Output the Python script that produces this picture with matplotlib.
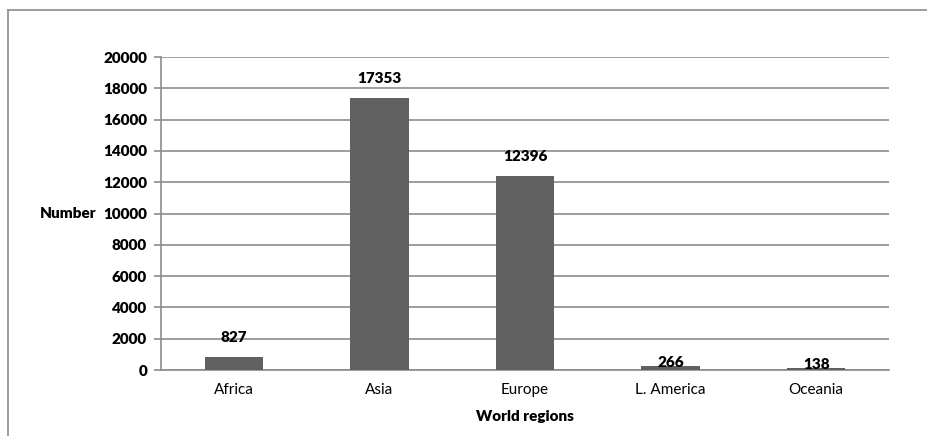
"""Bar chart of counts by world region."""
import matplotlib

matplotlib.use("Agg")
import matplotlib.pyplot as plt
from matplotlib.lines import Line2D

regions = ["Africa", "Asia", "Europe", "L. America", "Oceania"]
counts = [827, 17353, 12396, 266, 138]
y_ticks = [0, 2000, 4000, 6000, 8000, 10000, 12000, 14000, 16000, 18000, 20000]

# label offsets in points above the bar top (the two small bars had their labels pulled down)
label_offsets = [11, 11, 11, -0.7, -0.7]

plt.rcParams["font.family"] = ["Lato", "DejaVu Sans"]
grey = "#8c8c8c"
heavy = "heavy"

fig = plt.figure(figsize=(9.28, 4.36), dpi=100, facecolor="w")
ax = fig.add_axes([161 / 928, 66 / 436, 728 / 928, 313 / 436])

x = range(len(regions))
ax.bar(x, counts, width=0.4, color="#616161", zorder=3)
for xi, value, off in zip(x, counts, label_offsets):
    ax.annotate(
        str(value), (xi, value), xytext=(0, off), textcoords="offset points",
        ha="center", va="baseline", fontsize=11, fontweight=heavy, zorder=4,
    )

ax.set_xlim(-0.5, len(regions) - 0.5)
ax.set_ylim(0, 20000)
ax.set_yticks(y_ticks)
ax.set_yticklabels([str(t) for t in y_ticks], fontsize=11, fontweight=heavy)
ax.set_xticks(list(x))
ax.set_xticklabels(regions, fontsize=11)
ax.tick_params(axis="x", length=0, pad=9)
ax.tick_params(axis="y", length=5, width=1.2, color=grey, pad=5)
ax.grid(axis="y", color=grey, linewidth=1.2, zorder=0)

for side in ["top", "right"]:
    ax.spines[side].set_visible(False)
for side in ["left", "bottom"]:
    ax.spines[side].set_color(grey)
    ax.spines[side].set_linewidth(1.2)

ax.set_xlabel("World regions", fontsize=11, fontweight=heavy, labelpad=10)
ax.set_ylabel("Number", fontsize=11, fontweight=heavy, rotation=0, ha="right", va="center")
ax.yaxis.set_label_coords(-0.088, 0.5)

# outer chart frame (top and left edges visible in the crop)
fig.add_artist(Line2D([8.5 / 928, 8.5 / 928], [0, 1 - 10.5 / 436],
                      transform=fig.transFigure, color=grey, linewidth=1.2))
fig.add_artist(Line2D([8.5 / 928, 1], [1 - 10.5 / 436, 1 - 10.5 / 436],
                      transform=fig.transFigure, color=grey, linewidth=1.2))

plt.savefig("out.png", dpi=100)
